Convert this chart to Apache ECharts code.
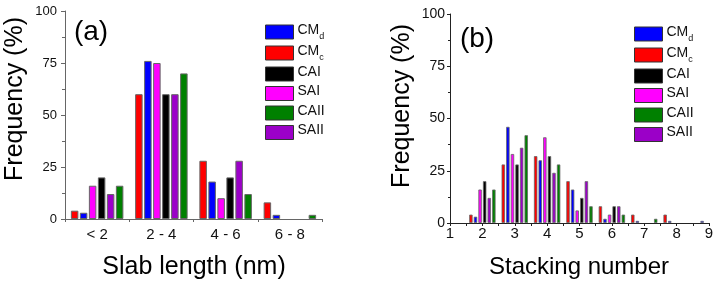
<!DOCTYPE html>
<html>
<head>
<meta charset="utf-8">
<script src="https://cdn.jsdelivr.net/npm/echarts@6/dist/echarts.min.js"></script>
<style>
  html, body { margin: 0; padding: 0; background: #fff; }
  #chart { width: 717px; height: 289px; }
</style>
</head>
<body>
<div id="chart"></div>
<script>
// (a) slab length histogram
var slabCats = ['< 2', '2 - 4', '4 - 6', '6 - 8'];
var slabCMc = [4, 60, 28, 8];
var slabCMd = [3, 76, 18, 2];
var slabSAI = [16, 75, 10, 0];
var slabCAI = [20, 60, 20, 0];
var slabSAII = [12, 60, 28, 0];
var slabCAII = [16, 70, 12, 2];

// (b) stacking number histogram
var stackNums = [2, 3, 4, 5, 6, 7, 8, 9];
var stackCMc = [4, 28, 32, 20, 8, 4, 4, 0];
var stackCMd = [3, 46, 30, 16, 2, 1, 1, 1];
var stackSAI = [16, 33, 41, 6, 4, 0, 0, 0];
var stackCAI = [20, 28, 32, 12, 8, 0, 0, 0];
var stackSAII = [12, 36, 24, 20, 8, 0, 0, 0];
var stackCAII = [16, 42, 28, 8, 4, 2, 0, 0];

var yTicks = [0, 25, 50, 75, 100];
var legendNames = ['CMd', 'CMc', 'CAI', 'SAI', 'CAII', 'SAII'];

var colors = {
	CMc: '#ff0000',
	CMd: '#0000ff',
	SAI: '#ff00ff',
	CAI: '#000000',
	SAII: '#9b00c8',
	CAII: '#008000'
};

var FONT = 'Liberation Sans';

// plot order inside each group: red, blue, magenta, black, purple, green
var slabSeries = [['CMc', slabCMc], ['CMd', slabCMd], ['SAI', slabSAI], ['CAI', slabCAI], ['SAII', slabSAII], ['CAII', slabCAII]];
var stackSeries = [['CMc', stackCMc], ['CMd', stackCMd], ['SAI', stackSAI], ['CAI', stackCAI], ['SAII', stackSAII], ['CAII', stackCAII]];

// empty bins are not drawn (a 0-height bar would leave a border line)
function hideZero(v) {
	return v === 0 ? '-' : v;
}

function pairs(xs, ys) {
	var out = [];
	for (var i = 0; i < xs.length; i++) {
		out.push([xs[i], hideZero(ys[i])]);
	}
	return out;
}

var series = [];
slabSeries.forEach(function(s) {
	series.push({
		name: s[0],
		type: 'bar',
		xAxisIndex: 0,
		yAxisIndex: 0,
		data: s[1].map(hideZero),
		barWidth: 7.5,
		barGap: '20%',
		itemStyle: { color: colors[s[0]], borderColor: '#666', borderWidth: 1 }
	});
});
stackSeries.forEach(function(s) {
	series.push({
		name: s[0],
		type: 'bar',
		xAxisIndex: 2,
		yAxisIndex: 1,
		data: pairs(stackNums, s[1]),
		barWidth: 3.4,
		barGap: '35%',
		itemStyle: { color: colors[s[0]], borderColor: '#666', borderWidth: 0.8 }
	});
});

function legendFmt(name) {
	if (name === 'CMd') return '{m|CM}{s|d}';
	if (name === 'CMc') return '{m|CM}{s|c}';
	return '{m|' + name + '}';
}

function makeLegend(left, top) {
	return {
		orient: 'vertical',
		left: left,
		top: top,
		padding: 0,
		itemWidth: 28,
		itemHeight: 14,
		itemGap: 3,
		icon: 'rect',
		data: legendNames,
		formatter: legendFmt,
		itemStyle: { borderColor: '#333', borderWidth: 1 },
		textStyle: {
			fontFamily: FONT,
			color: '#111',
			padding: [0, 0, 0, -1],
			rich: {
				m: { fontSize: 14, fontFamily: FONT, color: '#111', lineHeight: 18, verticalAlign: 'top' },
				s: { fontSize: 9, fontFamily: FONT, color: '#111', lineHeight: 18, verticalAlign: 'bottom', padding: [6, 0, 0, 0] }
			}
		}
	};
}

var chart = echarts.init(document.getElementById('chart'));

chart.setOption({
	animation: false,
	backgroundColor: '#fff',
	grid: [
		{ left: 65, right: 395, top: 11, bottom: 70 },
		{ left: 450, right: 8, top: 14, bottom: 66 }
	],
	legend: [makeLegend(265, 23), makeLegend(634, 25)],
	xAxis: [
		{
			// labels + center ticks
			type: 'category',
			gridIndex: 0,
			data: slabCats,
			axisLine: { lineStyle: { color: '#666', width: 1 } },
			axisTick: { alignWithLabel: true, length: 3, lineStyle: { color: '#666' } },
			axisLabel: { fontFamily: FONT, fontSize: 15, color: '#111', margin: 8 },
			splitLine: { show: false }
		},
		{
			// boundary ticks only
			type: 'category',
			gridIndex: 0,
			position: 'bottom',
			data: slabCats,
			axisLine: { show: false },
			axisTick: { show: true, length: 3, interval: 0, lineStyle: { color: '#666' } },
			axisLabel: { show: false },
			splitLine: { show: false }
		},
		{
			type: 'value',
			gridIndex: 1,
			min: 1,
			max: 9,
			interval: 1,
			axisLine: { onZero: false, lineStyle: { color: '#222', width: 1 } },
			axisTick: { length: 3, lineStyle: { color: '#222' } },
			minorTick: { show: true, splitNumber: 2, length: 3, lineStyle: { color: '#222' } },
			axisLabel: { fontFamily: FONT, fontSize: 15, color: '#111', margin: 3 },
			splitLine: { show: false }
		}
	],
	yAxis: [
		{
			type: 'value',
			gridIndex: 0,
			min: yTicks[0],
			max: yTicks[yTicks.length - 1],
			interval: 25,
			axisLine: { show: true, lineStyle: { color: '#666', width: 1 } },
			axisTick: { show: true, length: 4, lineStyle: { color: '#666' } },
			minorTick: { show: true, splitNumber: 2, length: 3, lineStyle: { color: '#666' } },
			axisLabel: { fontFamily: FONT, fontSize: 13, color: '#111', margin: 8 },
			splitLine: { show: false }
		},
		{
			type: 'value',
			gridIndex: 1,
			min: yTicks[0],
			max: yTicks[yTicks.length - 1],
			interval: 25,
			axisLine: { show: true, lineStyle: { color: '#222', width: 1 } },
			axisTick: { show: true, length: 3, lineStyle: { color: '#222' } },
			minorTick: { show: true, splitNumber: 2, length: 2, lineStyle: { color: '#222' } },
			axisLabel: { fontFamily: FONT, fontSize: 14, color: '#111', margin: 5 },
			splitLine: { show: false }
		}
	],
	graphic: [
		{ type: 'text', x: 91, y: 32, style: { text: '(a)', font: '28px ' + FONT, fill: '#000', align: 'center', verticalAlign: 'middle' } },
		{ type: 'text', x: 477, y: 39, style: { text: '(b)', font: '28px ' + FONT, fill: '#000', align: 'center', verticalAlign: 'middle' } },
		{ type: 'text', x: 15, y: 99, rotation: Math.PI / 2, style: { text: 'Frequency (%)', font: '25px ' + FONT, fill: '#000', align: 'center', verticalAlign: 'middle' } },
		{ type: 'text', x: 402, y: 106, rotation: Math.PI / 2, style: { text: 'Frequency (%)', font: '25px ' + FONT, fill: '#000', align: 'center', verticalAlign: 'middle' } },
		{ type: 'text', x: 194, y: 267, style: { text: 'Slab length (nm)', font: '25px ' + FONT, fill: '#000', align: 'center', verticalAlign: 'middle' } },
		{ type: 'text', x: 579, y: 267, style: { text: 'Stacking number', font: '24px ' + FONT, fill: '#000', align: 'center', verticalAlign: 'middle' } }
	],
	series: series
});
</script>
</body>
</html>
